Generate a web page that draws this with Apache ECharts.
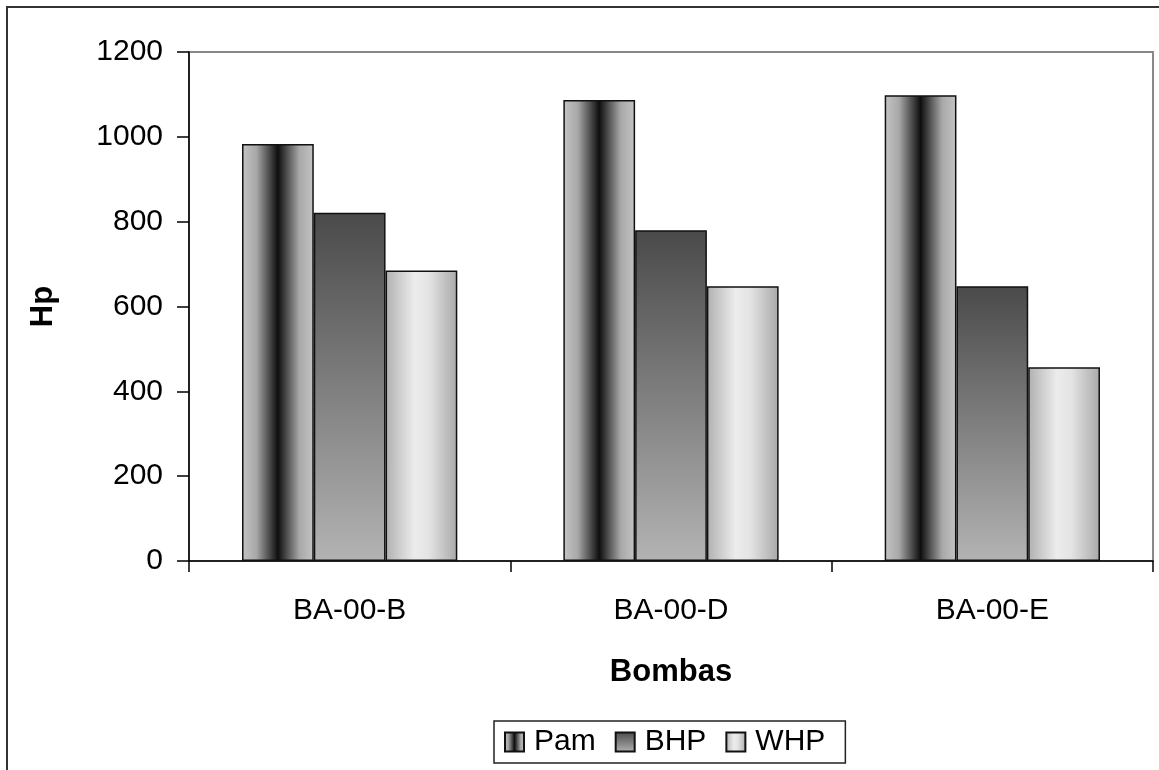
<!DOCTYPE html>
<html>
<head>
<meta charset="utf-8">
<script src="https://cdn.jsdelivr.net/npm/echarts@6/dist/echarts.min.js"></script>
<style>
html,body{margin:0;padding:0;background:#fff;}
#c{width:1159px;height:770px;}
</style>
</head>
<body>
<div id="c"></div>
<script>
var categories = ['BA-00-B', 'BA-00-D', 'BA-00-E'];
var seriesNames = ['Pam', 'BHP', 'WHP'];
var pamValues = [983, 1087, 1098];
var bhpValues = [821, 780, 648];
var whpValues = [685, 648, 457];
var yTicks = [0, 200, 400, 600, 800, 1000, 1200];

var FONT = 'Liberation Sans, Arial, sans-serif';

var pamFill = new echarts.graphic.LinearGradient(0, 0, 1, 0, [
  {offset: 0, color: '#c4c4c4'},
  {offset: 0.2, color: '#a8a8a8'},
  {offset: 0.5, color: '#0e0e0e'},
  {offset: 0.8, color: '#a8a8a8'},
  {offset: 1, color: '#c4c4c4'}
]);
var bhpFill = new echarts.graphic.LinearGradient(0, 0, 0, 1, [
  {offset: 0, color: '#4a4a4a'},
  {offset: 1, color: '#b3b3b3'}
]);
var whpFill = new echarts.graphic.LinearGradient(0, 0, 1, 0, [
  {offset: 0, color: '#b0b0b0'},
  {offset: 0.4, color: '#ececec'},
  {offset: 0.6, color: '#e4e4e4'},
  {offset: 1, color: '#a8a8a8'}
]);

var chart = echarts.init(document.getElementById('c'), null, {renderer: 'canvas'});
var option = {
  backgroundColor: '#fff',
  animation: false,
  graphic: [{
    type: 'rect',
    shape: {x: 7, y: 7, width: 1400, height: 1000},
    style: {fill: 'none', stroke: '#333', lineWidth: 2},
    silent: true,
    z: 100
  }],
  grid: {
    left: 189, right: 6, top: 52, bottom: 209,
    show: true, borderColor: '#888', borderWidth: 2, backgroundColor: 'transparent'
  },
  legend: {
    data: seriesNames,
    left: 494,
    top: 721,
    orient: 'horizontal',
    itemWidth: 19,
    itemHeight: 19,
    itemGap: 19,
    padding: [6, 20, 6, 10],
    borderColor: '#222',
    borderWidth: 1.5,
    backgroundColor: '#fff',
    textStyle: {fontFamily: FONT, fontSize: 30, color: '#000', padding: [0, 0, 0, 5]},
    icon: 'rect'
  },
  xAxis: {
    type: 'category',
    data: categories,
    name: 'Bombas',
    nameLocation: 'middle',
    nameGap: 96,
    nameTextStyle: {fontFamily: FONT, fontSize: 31, fontWeight: 'bold', color: '#000'},
    axisLine: {lineStyle: {color: '#000', width: 1.5}},
    axisTick: {show: true, length: 11, inside: false, lineStyle: {color: '#000', width: 1.5}},
    axisLabel: {fontFamily: FONT, fontSize: 30, color: '#000', margin: 35},
    splitLine: {show: false}
  },
  yAxis: {
    type: 'value',
    min: 0,
    max: 1200,
    interval: 200,
    name: 'Hp',
    nameLocation: 'middle',
    nameGap: 130,
    nameRotate: 90,
    nameTextStyle: {fontFamily: FONT, fontSize: 31, fontWeight: 'bold', color: '#000'},
    axisLine: {show: true, lineStyle: {color: '#000', width: 1.5}},
    axisTick: {show: true, length: 12, inside: false, lineStyle: {color: '#000', width: 1.5}},
    axisLabel: {
      fontFamily: FONT, fontSize: 30, color: '#000', margin: 26,
      formatter: function (v) { return yTicks.indexOf(v) >= 0 ? String(v) : ''; }
    },
    splitLine: {show: false}
  },
  series: [
    {name: 'Pam', type: 'bar', data: pamValues, barGap: '0%', barCategoryGap: '33%',
     itemStyle: {color: pamFill, borderColor: '#111', borderWidth: 1.5}},
    {name: 'BHP', type: 'bar', data: bhpValues,
     itemStyle: {color: bhpFill, borderColor: '#111', borderWidth: 1.5}},
    {name: 'WHP', type: 'bar', data: whpValues,
     itemStyle: {color: whpFill, borderColor: '#111', borderWidth: 1.5}}
  ]
};
chart.setOption(option);
</script>
</body>
</html>
